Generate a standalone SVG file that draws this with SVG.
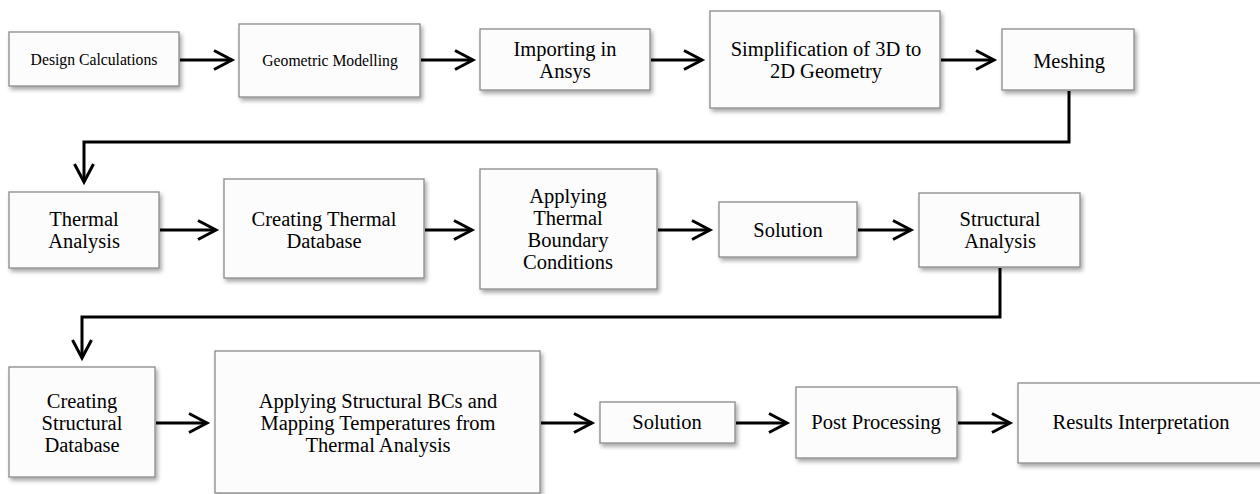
<svg xmlns="http://www.w3.org/2000/svg" width="1260" height="494" viewBox="0 0 1260 494">
<defs>
<filter id="sh" x="-10%" y="-10%" width="130%" height="140%">
<feDropShadow dx="2" dy="3" stdDeviation="2" flood-color="#000" flood-opacity="0.35"/>
</filter>
<marker id="ah" markerUnits="userSpaceOnUse" viewBox="-22 -12 26 24" markerWidth="26" markerHeight="24" refX="0" refY="0" orient="auto" overflow="visible">
<path d="M-18,-9.5 L0,0 L-18,9.5" fill="none" stroke="#000" stroke-width="3"/>
</marker>
<style>
.b{fill:#fcfcfc;stroke:#8a8a8a;stroke-width:1.3;filter:url(#sh)}
.t{font-family:"Liberation Serif","Times New Roman",serif;font-size:20.5px;fill:#000;text-anchor:middle}
.s{font-size:15.7px}
.c{fill:none;stroke:#000;stroke-width:3}
</style>
</defs>
<g id="connectors">
<path class="c" d="M180,60 H232" marker-end="url(#ah)"/>
<path class="c" d="M421,60 H473" marker-end="url(#ah)"/>
<path class="c" d="M651,60 H702" marker-end="url(#ah)"/>
<path class="c" d="M941,60 H994" marker-end="url(#ah)"/>
<path class="c" d="M1069,91 V142 H84 V182" marker-end="url(#ah)"/>
<path class="c" d="M160,230 H216" marker-end="url(#ah)"/>
<path class="c" d="M425,230 H472" marker-end="url(#ah)"/>
<path class="c" d="M658,230 H710" marker-end="url(#ah)"/>
<path class="c" d="M858,230 H911" marker-end="url(#ah)"/>
<path class="c" d="M1000,268 V317 H82 V358" marker-end="url(#ah)"/>
<path class="c" d="M156,423 H207" marker-end="url(#ah)"/>
<path class="c" d="M541,423 H592" marker-end="url(#ah)"/>
<path class="c" d="M736,423 H787" marker-end="url(#ah)"/>
<path class="c" d="M958,423 H1010" marker-end="url(#ah)"/>
</g>
<g id="n1"><rect class="b" x="9" y="32" width="170" height="54"/><text class="t s" x="94" y="65">Design Calculations</text></g>
<g id="n2"><rect class="b" x="239" y="24" width="181" height="73"/><text class="t s" x="330" y="66">Geometric Modelling</text></g>
<g id="n3"><rect class="b" x="480" y="29" width="170" height="61"/><text class="t" x="565" y="56">Importing in</text><text class="t" x="565" y="78">Ansys</text></g>
<g id="n4"><rect class="b" x="710" y="11" width="230" height="97"/><text class="t" x="826" y="56">Simplification of 3D to</text><text class="t" x="826" y="78">2D Geometry</text></g>
<g id="n5"><rect class="b" x="1002" y="29" width="132" height="61"/><text class="t" x="1069" y="68">Meshing</text></g>
<g id="n6"><rect class="b" x="9" y="192" width="150" height="76"/><text class="t" x="84" y="226">Thermal</text><text class="t" x="84" y="248">Analysis</text></g>
<g id="n7"><rect class="b" x="224" y="179" width="200" height="99"/><text class="t" x="324" y="226">Creating Thermal</text><text class="t" x="324" y="248">Database</text></g>
<g id="n8"><rect class="b" x="480" y="169" width="177" height="120"/><text class="t" x="568" y="203">Applying</text><text class="t" x="568" y="225">Thermal</text><text class="t" x="568" y="247">Boundary</text><text class="t" x="568" y="269">Conditions</text></g>
<g id="n9"><rect class="b" x="719" y="202" width="138" height="55"/><text class="t" x="788" y="237">Solution</text></g>
<g id="n10"><rect class="b" x="919" y="193" width="161" height="74"/><text class="t" x="1000" y="226">Structural</text><text class="t" x="1000" y="248">Analysis</text></g>
<g id="n11"><rect class="b" x="9" y="367" width="146" height="110"/><text class="t" x="82" y="408">Creating</text><text class="t" x="82" y="430">Structural</text><text class="t" x="82" y="452">Database</text></g>
<g id="n12"><rect class="b" x="215" y="351" width="325" height="142"/><text class="t" x="378" y="408">Applying Structural BCs and</text><text class="t" x="378" y="430">Mapping Temperatures from</text><text class="t" x="378" y="452">Thermal Analysis</text></g>
<g id="n13"><rect class="b" x="600" y="402" width="135" height="41"/><text class="t" x="667" y="429">Solution</text></g>
<g id="n14"><rect class="b" x="796" y="387" width="161" height="71"/><text class="t" x="876" y="429">Post Processing</text></g>
<g id="n15"><rect class="b" x="1018" y="383" width="246" height="80"/><text class="t" x="1141" y="429">Results Interpretation</text></g>
</svg>
